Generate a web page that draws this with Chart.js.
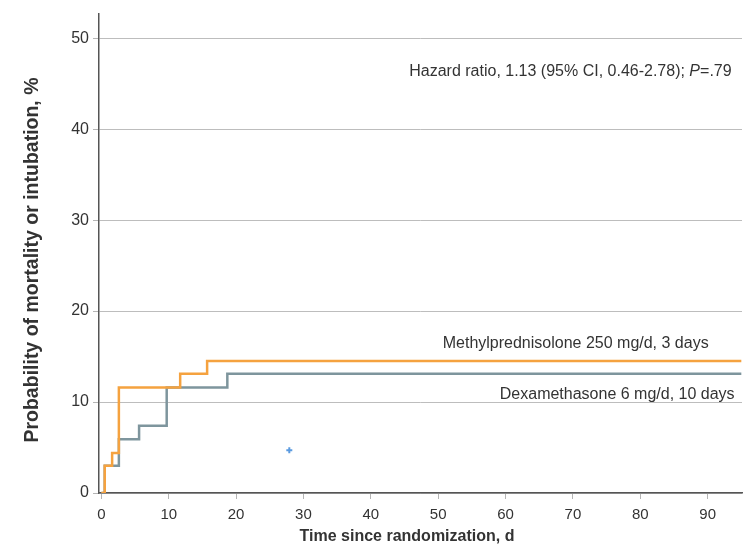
<!DOCTYPE html>
<html><head><meta charset="utf-8">
<script src="https://cdn.jsdelivr.net/npm/chart.js@4/dist/chart.umd.min.js"></script>
<style>html,body{margin:0;padding:0;background:#fff}#wrap{width:743px;height:549px}</style>
</head><body><div id="wrap"><canvas id="c" width="743" height="549"></canvas></div>
<script>
// Kaplan-Meier style cumulative incidence (%), step points: day, percent
const dexaDays   = [0, 0.5, 2.6, 5.6, 9.7, 18.7, 95];
const dexaPct    = [0, 3.0, 5.9, 7.4, 11.6, 13.1, 13.1];
const methylDays = [0, 0.5, 1.6, 2.6, 11.7, 15.7, 95];
const methylPct  = [0, 3.0, 4.4, 11.6, 13.1, 14.5, 14.5];
const censorDays = [27.9];
const censorPct  = [4.7];
const xTickVals  = [0, 10, 20, 30, 40, 50, 60, 70, 80, 90];
const yTickVals  = [0, 10, 20, 30, 40, 50];
const seriesNames = ['Methylprednisolone 250 mg/d, 3 days', 'Dexamethasone 6 mg/d, 10 days'];
const xTitle = 'Time since randomization, d';
const yTitle = 'Probability of mortality or intubation, %';
const hrText = ['Hazard ratio, 1.13 (95% CI, 0.46-2.78); ', 'P', '=.79'];

const toPts = (xs, ys) => xs.map((x, i) => ({x: x, y: ys[i]}));

const FONT = "'Liberation Sans', Arial, sans-serif";
const TXT = '#333333';

const labelPlugin = {
  id: 'labels',
  afterDatasetsDraw(chart, args, opts) {
    const ctx = chart.ctx, xs = chart.scales.x, ys = chart.scales.y;
    ctx.save();
    ctx.fillStyle = TXT;
    ctx.textBaseline = 'middle';
    ctx.font = '16px ' + FONT;
    ctx.textAlign = 'right';
    opts.series.forEach(s => {
      ctx.fillText(s.text, xs.getPixelForValue(s.x), ys.getPixelForValue(s.y));
    });
    // hazard ratio with italic P
    const hr = opts.hr;
    const normal = '16px ' + FONT, ital = 'italic 16px ' + FONT;
    ctx.textAlign = 'left';
    ctx.font = normal; const w0 = ctx.measureText(hr.parts[0]).width;
    ctx.font = ital;   const w1 = ctx.measureText(hr.parts[1]).width;
    ctx.font = normal; const w2 = ctx.measureText(hr.parts[2]).width;
    let x = xs.getPixelForValue(hr.x) - (w0 + w1 + w2);
    const y = ys.getPixelForValue(hr.y);
    ctx.font = normal; ctx.fillText(hr.parts[0], x, y); x += w0;
    ctx.font = ital;   ctx.fillText(hr.parts[1], x, y); x += w1;
    ctx.font = normal; ctx.fillText(hr.parts[2], x, y);
    // axis titles
    const t = opts.titles;
    ctx.textAlign = 'center';
    ctx.font = 'bold ' + t.x.size + 'px ' + FONT;
    ctx.fillText(t.x.text, t.x.cx, t.x.cy);
    ctx.save();
    ctx.translate(t.y.cx, t.y.cy);
    ctx.rotate(-Math.PI / 2);
    ctx.font = 'bold ' + t.y.size + 'px ' + FONT;
    ctx.fillText(t.y.text, 0, 0);
    ctx.restore();
    ctx.restore();
  }
};

new Chart(document.getElementById('c'), {
  type: 'scatter',
  data: {
    datasets: [
      { label: seriesNames[0], data: toPts(methylDays, methylPct), showLine: true, stepped: 'before',
        borderColor: '#F5A23F', borderWidth: 2.5, pointRadius: 0, fill: false },
      { label: seriesNames[1], data: toPts(dexaDays, dexaPct), showLine: true, stepped: 'before',
        borderColor: '#7E959D', borderWidth: 2.5, pointRadius: 0, fill: false },
      { label: 'Censored', data: toPts(censorDays, censorPct), showLine: false,
        pointStyle: 'cross', pointRadius: 3, borderColor: '#5B9BE0', borderWidth: 2 }
    ]
  },
  options: {
    responsive: false, animation: false, devicePixelRatio: 1,
    layout: { autoPadding: false, padding: { top: 11, right: 1, left: 0, bottom: 0 } },
    plugins: {
      legend: { display: false }, tooltip: { enabled: false },
      labels: {
        series: [
          { text: seriesNames[0], x: 90.15, y: 16.4 },
          { text: seriesNames[1], x: 94.0, y: 10.8 }
        ],
        hr: { parts: hrText, x: 93.56, y: 46.3 },
        titles: {
          x: { text: xTitle, size: 16, cx: 407, cy: 537 },
          y: { text: yTitle, size: 19.5, cx: 33, cy: 260 }
        }
      }
    },
    scales: {
      x: {
        type: 'linear', min: -0.35, max: 95.1,
        afterBuildTicks: s => { s.ticks = xTickVals.map(v => ({value: v})); },
        afterFit: s => { s.height = 56; s.paddingRight = 0; },
        grid: { drawOnChartArea: false, drawTicks: true, tickLength: 6, tickColor: '#b5b5b5', tickWidth: 1 },
        border: { color: '#555555', width: 1.5 },
        ticks: { color: TXT, font: { family: FONT, size: 15 }, padding: 7, maxRotation: 0 },
        title: { display: false, text: xTitle }
      },
      y: {
        type: 'linear', min: 0, max: 52.7,
        afterBuildTicks: s => { s.ticks = yTickVals.map(v => ({value: v})); },
        afterFit: s => { s.width = 99; },
        grid: { color: '#bdbdbd', lineWidth: 1, drawTicks: true, tickLength: 6, tickColor: '#b5b5b5' },
        border: { color: '#555555', width: 1.5 },
        ticks: { color: TXT, font: { family: FONT, size: 16 }, padding: 4 },
        title: { display: false, text: yTitle }
      }
    }
  },
  plugins: [labelPlugin]
});
</script>
</body></html>
